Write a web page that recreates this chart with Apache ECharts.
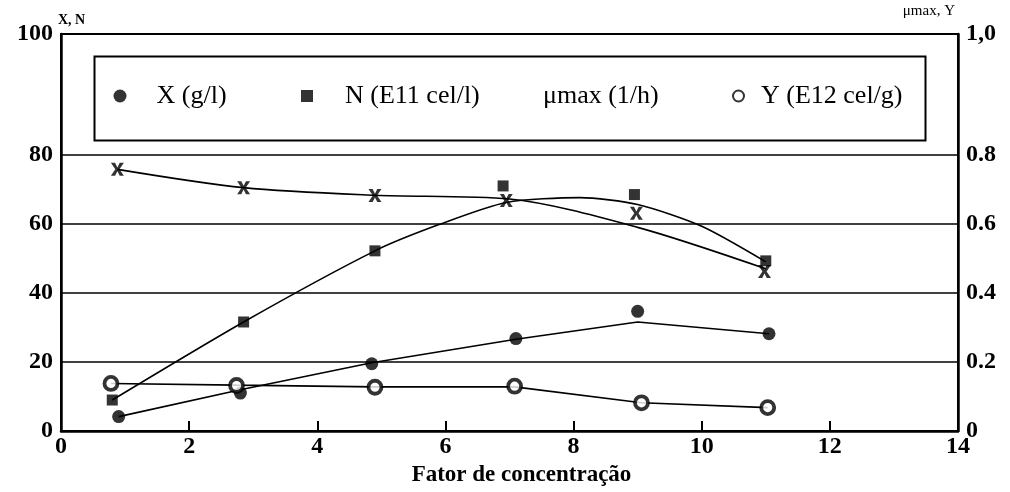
<!DOCTYPE html>
<html>
<head>
<meta charset="utf-8">
<script src="https://cdn.jsdelivr.net/npm/echarts@6/dist/echarts.min.js"></script>
<style>
html,body{margin:0;padding:0;background:#fff;}
#chart{width:1010px;height:492px;}
</style>
</head>
<body>
<div id="chart"></div>
<script>
// ---- data ----
const xTicks = [0, 2, 4, 6, 8, 10, 12, 14];

// X (g/l) – measured points (left axis)
const fatorX = [0.9, 2.8, 4.85, 7.1, 9.0, 11.05];
const valX   = [4.2, 11.0, 19.5, 26.8, 34.7, 28.2];
// X fitted line
const fitXx = [0.9, 2.8, 4.85, 7.1, 9.0, 11.05];
const fitXy = [4.2, 12.0, 19.8, 26.6, 31.6, 28.2];

// N (E11 cel/l) – measured points (left axis)
const fatorN = [0.8, 2.85, 4.9, 6.9, 8.95, 11.0];
const valN   = [9.0, 31.6, 52.2, 71.0, 68.5, 49.3];
// N fitted curve
const fitNx = [0.8, 2.85, 4.9, 5.9, 6.95, 8.1, 9.0, 10.0, 11.0];
const fitNy = [9.0, 31.6, 52.2, 59.8, 66.2, 67.6, 65.6, 59.3, 49.0];

// μmax (1/h) – measured points (right axis)
const fatorMu = [0.88, 2.85, 4.9, 6.95, 8.98, 10.98];
const valMu   = [0.758, 0.705, 0.682, 0.668, 0.631, 0.462];
// μmax fitted curve
const fitMux = [0.88, 2.85, 4.9, 7.0, 9.0, 11.0];
const fitMuy = [0.758, 0.705, 0.683, 0.672, 0.59, 0.47];

// Y (E12 cel/g) – measured points (right axis)
const fatorY = [0.78, 2.74, 4.9, 7.08, 9.06, 11.03];
const valY   = [0.138, 0.132, 0.127, 0.130, 0.082, 0.068];
// Y fitted line
const fitYx = [0.78, 2.74, 4.9, 7.08, 9.06, 11.03];
const fitYy = [0.138, 0.133, 0.128, 0.128, 0.082, 0.068];

const gridLinesLeft = [20, 40, 60, 80];

// ---- chart ----
const pair = (xs, ys) => xs.map((x, i) => [x, ys[i]]);
const FONT = '"Liberation Serif", "Times New Roman", serif';
const xSymbol = 'path://M0,0 L3.2,0 L5,3.6 L6.8,0 L10,0 L6.6,5 L10,10 L6.8,10 L5,6.4 L3.2,10 L0,10 L3.4,5 Z';

const chart = echarts.init(document.getElementById('chart'), null, {renderer: 'canvas'});

const lineBase = {
  type: 'line', showSymbol: false, symbol: 'none', silent: true,
  lineStyle: {color: '#000', width: 1.6}, z: 2
};

const legendBase = {
  orient: 'horizontal', padding: 0, itemGap: 0, selectedMode: false,
  textStyle: {fontFamily: FONT, fontSize: 26, color: '#000'}
};

chart.setOption({
  animation: false,
  backgroundColor: '#fff',
  grid: {left: 61, right: 52, top: 34, bottom: 50, show: true,
         borderColor: '#000', borderWidth: 2, backgroundColor: 'transparent'},
  legend: [
    Object.assign({}, legendBase, {data: ['X (g/l)'], left: 113.5, top: 83,
      itemWidth: 13, itemHeight: 13,
      textStyle: Object.assign({}, legendBase.textStyle, {padding: [0, 0, 0, 25]})}),
    Object.assign({}, legendBase, {data: ['N (E11 cel/l)'], left: 301, top: 83,
      itemWidth: 12, itemHeight: 12,
      textStyle: Object.assign({}, legendBase.textStyle, {padding: [0, 0, 0, 27]})}),
    Object.assign({}, legendBase, {data: [{name: 'μmax (1/h)', itemStyle: {opacity: 0}}], left: 528, top: 83,
      itemWidth: 10, itemHeight: 10}),
    Object.assign({}, legendBase, {data: ['Y (E12 cel/g)'], left: 732, top: 83,
      itemWidth: 11, itemHeight: 11,
      textStyle: Object.assign({}, legendBase.textStyle, {padding: [0, 0, 0, 12]})})
  ],
  graphic: [{
    type: 'rect', left: 92, top: 54, silent: true, z: 50,
    shape: {width: 831, height: 84},
    style: {fill: 'none', stroke: '#000', lineWidth: 2}
  }],
  xAxis: {
    type: 'value', min: xTicks[0], max: xTicks[xTicks.length - 1], interval: 2,
    name: 'Fator de concentração', nameLocation: 'middle', nameGap: 24,
    nameTextStyle: {fontFamily: FONT, fontSize: 23, fontWeight: 'bold', color: '#000', padding: [0, 0, 0, 24]},
    axisLine: {lineStyle: {color: '#000', width: 2.5}},
    axisTick: {show: true, inside: true, length: 10, lineStyle: {color: '#000', width: 2}},
    axisLabel: {fontFamily: FONT, fontSize: 24, fontWeight: 'bold', color: '#000', margin: 4},
    splitLine: {show: false}
  },
  yAxis: [{
    type: 'value', min: 0, max: 115, interval: 20, position: 'left',
    name: 'X, N', nameLocation: 'end', nameGap: 14, nameMoveOverlap: false,
    nameTextStyle: {fontFamily: FONT, fontSize: 14, fontWeight: 'bold', color: '#000',
      align: 'left', verticalAlign: 'middle', padding: [0, 0, 0, -3]},
    axisLine: {show: true, lineStyle: {color: '#000', width: 2.5}},
    axisTick: {show: false},
    axisLabel: {fontFamily: FONT, fontSize: 24, fontWeight: 'bold', color: '#000', margin: 8,
      formatter: v => (Math.abs(v - 115) < 1e-6 ? '100' : (Math.abs(v - 100) < 1e-6 ? '' : String(v)))},
    splitLine: {show: false}
  }, {
    type: 'value', min: 0, max: 1.15, interval: 0.2, position: 'right',
    name: 'μmax, Y', nameLocation: 'end', nameGap: 23, nameMoveOverlap: false,
    nameTextStyle: {fontFamily: FONT, fontSize: 15, color: '#000',
      align: 'right', verticalAlign: 'middle', padding: [0, 3, 0, 0]},
    axisLine: {show: true, lineStyle: {color: '#000', width: 2.5}},
    axisTick: {show: false},
    axisLabel: {fontFamily: FONT, fontSize: 24, fontWeight: 'bold', color: '#000', margin: 8,
      formatter: v => {
        if (Math.abs(v - 1.15) < 1e-6) return '1,0';
        if (Math.abs(v - 1.0) < 1e-6) return '';
        if (Math.abs(v) < 1e-9) return '0';
        return v.toFixed(1);
      }},
    splitLine: {show: false}
  }],
  series: [
    Object.assign({}, lineBase, {name: 'fitX', yAxisIndex: 0, data: pair(fitXx, fitXy),
      markLine: {silent: true, symbol: 'none', label: {show: false},
        lineStyle: {color: '#000', type: 'solid', width: 1.6},
        data: gridLinesLeft.map(v => ({yAxis: v}))}}),
    Object.assign({}, lineBase, {name: 'fitN', yAxisIndex: 0, smooth: 0.25, data: pair(fitNx, fitNy)}),
    Object.assign({}, lineBase, {name: 'fitMu', yAxisIndex: 1, smooth: 0.3, data: pair(fitMux, fitMuy)}),
    Object.assign({}, lineBase, {name: 'fitY', yAxisIndex: 1, data: pair(fitYx, fitYy)}),
    {name: 'X (g/l)', type: 'scatter', yAxisIndex: 0, symbol: 'circle', symbolSize: 13, z: 5,
      itemStyle: {color: '#000'}, data: pair(fatorX, valX)},
    {name: 'N (E11 cel/l)', type: 'scatter', yAxisIndex: 0, symbol: 'rect', symbolSize: 11, z: 5,
      itemStyle: {color: '#000'}, data: pair(fatorN, valN)},
    {name: 'μmax (1/h)', type: 'scatter', yAxisIndex: 1, symbol: xSymbol, symbolSize: [13, 13], z: 5,
      itemStyle: {color: '#000'}, data: pair(fatorMu, valMu)},
    {name: 'Y (E12 cel/g)', type: 'scatter', yAxisIndex: 1, symbol: 'circle', symbolSize: 13, z: 5,
      itemStyle: {color: '#fff', borderColor: '#000', borderWidth: 3.8}, data: pair(fatorY, valY)}
  ]
});
</script>
</body>
</html>
